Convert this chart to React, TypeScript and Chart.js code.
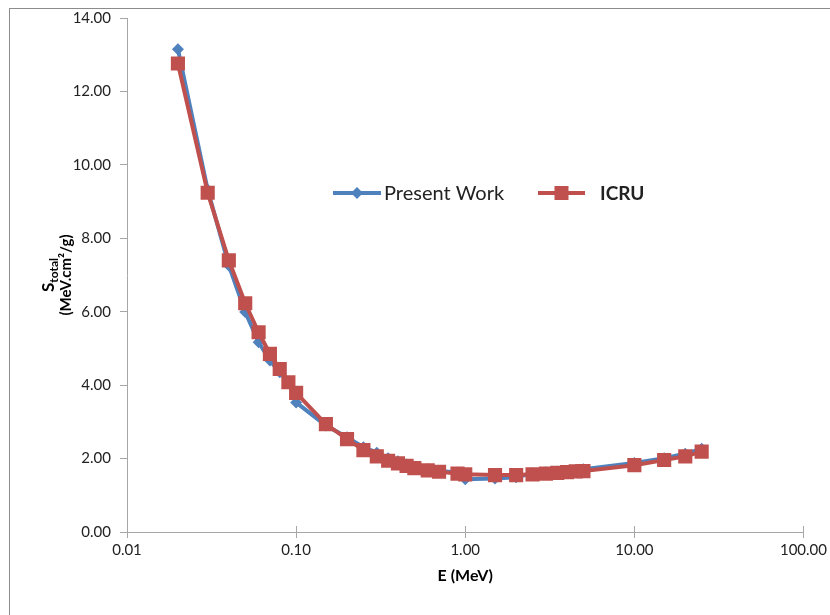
import React, { useEffect, useRef } from 'react';
import { Chart, registerables } from 'chart.js';

Chart.register(...registerables);

const energies = [0.02, 0.03, 0.04, 0.05, 0.06, 0.07, 0.08, 0.09, 0.1, 0.15, 0.2, 0.25, 0.3, 0.35, 0.4, 0.45, 0.5, 0.6, 0.7, 0.9, 1.0, 1.5, 2, 2.5, 3, 3.5, 4, 4.5, 5, 10, 15, 20, 25];
const presentWork = [13.15, 9.32, 7.26, 5.99, 5.17, 4.67, 4.35, 4.08, 3.53, 2.9, 2.58, 2.31, 2.16, 2.01, 1.93, 1.84, 1.78, 1.71, 1.66, 1.62, 1.44, 1.46, 1.49, 1.6, 1.63, 1.65, 1.67, 1.69, 1.71, 1.88, 2.01, 2.13, 2.27];
const icru = [12.76, 9.24, 7.4, 6.23, 5.44, 4.85, 4.44, 4.08, 3.79, 2.94, 2.53, 2.23, 2.06, 1.94, 1.87, 1.8, 1.74, 1.68, 1.64, 1.59, 1.57, 1.55, 1.55, 1.57, 1.59, 1.61, 1.63, 1.65, 1.66, 1.82, 1.96, 2.06, 2.19];
const xTicks = [0.01, 0.1, 1, 10, 100];
const seriesNames = ['Present Work', 'ICRU'];
const xTitle = 'E (MeV)';
const yTitleMain = 'S';
const yTitleSub = 'total';
const yTitleUnit = '(MeV.cm\u00B2/g)';

const BLUE = '#4F81BD';
const RED = '#C0504D';
const FONT = 'Lato, "Open Sans", sans-serif';

const decor = {
  id: 'decor',
  beforeDraw(chart: any) {
    const ctx = chart.ctx;
    ctx.save();
    ctx.fillStyle = '#ffffff';
    ctx.fillRect(0, 0, chart.width, chart.height);
    ctx.restore();
  },
  afterDraw(chart: any) {
    const ctx = chart.ctx;
    const { left, right, top, bottom } = chart.chartArea;
    ctx.save();
    // outer border
    ctx.strokeStyle = '#8c8c8c';
    ctx.lineWidth = 1;
    ctx.strokeRect(9.5, 8.5, 840, 640);

    // inner halves of x cross tick marks
    const xs = chart.scales.x;
    ctx.strokeStyle = '#a6a6a6';
    ctx.beginPath();
    xTicks.forEach((v) => {
      const px = Math.round(xs.getPixelForValue(v)) + 0.5;
      ctx.moveTo(px, bottom - 6);
      ctx.lineTo(px, bottom);
    });
    ctx.stroke();

    // x title
    ctx.fillStyle = '#000';
    ctx.font = 'bold 16px ' + FONT;
    ctx.textAlign = 'center';
    ctx.textBaseline = 'middle';
    ctx.fillText(xTitle, (left + right) / 2, 576);

    // y title
    const cy = (top + bottom) / 2;
    ctx.save();
    ctx.translate(51, cy);
    ctx.rotate(-Math.PI / 2);
    ctx.textBaseline = 'middle';
    ctx.textAlign = 'left';
    ctx.font = 'bold 17px ' + FONT;
    const wS = ctx.measureText(yTitleMain).width;
    ctx.font = 'bold 12px ' + FONT;
    const wSub = ctx.measureText(yTitleSub).width;
    const x0 = -(wS + wSub) / 2;
    ctx.font = 'bold 17px ' + FONT;
    ctx.fillText(yTitleMain, x0, -2);
    ctx.font = 'bold 12px ' + FONT;
    ctx.fillText(yTitleSub, x0 + wS, 3);
    ctx.font = 'bold 15px ' + FONT;
    ctx.textAlign = 'center';
    ctx.fillText(yTitleUnit, 0, 15);
    ctx.restore();

    // legend
    const ds = chart.data.datasets;
    const ly = 193;
    const items = [
      { x1: 333, x2: 381, tx: 384, font: '20px ' + FONT, ds: ds[0] },
      { x1: 538, x2: 585, tx: 600, font: 'bold 19px ' + FONT, ds: ds[1] },
    ];
    items.forEach((it) => {
      ctx.strokeStyle = it.ds.borderColor;
      ctx.lineWidth = it.ds.borderWidth;
      ctx.beginPath();
      ctx.moveTo(it.x1, ly);
      ctx.lineTo(it.x2, ly);
      ctx.stroke();
      const mx = (it.x1 + it.x2) / 2;
      ctx.fillStyle = it.ds.pointBackgroundColor;
      ctx.beginPath();
      if (it.ds.pointStyle === 'rectRot') {
        const r = 6;
        ctx.moveTo(mx, ly - r);
        ctx.lineTo(mx + r, ly);
        ctx.lineTo(mx, ly + r);
        ctx.lineTo(mx - r, ly);
        ctx.closePath();
      } else {
        ctx.rect(mx - 7, ly - 7, 14, 14);
      }
      ctx.fill();
      ctx.fillStyle = '#222';
      ctx.font = it.font;
      ctx.textAlign = 'left';
      ctx.textBaseline = 'middle';
      ctx.fillText(it.ds.label, it.tx, ly + 1);
    });
    ctx.restore();
  },
};

export default function App() {
  const ref = useRef<HTMLCanvasElement>(null);
  useEffect(() => {
    if (!ref.current) return;
    const chart = new Chart(ref.current, {
      type: 'line',
      data: {
        datasets: [
          {
            label: seriesNames[0],
            data: energies.map((e, i) => ({ x: e, y: presentWork[i] })),
            borderColor: BLUE,
            backgroundColor: BLUE,
            pointBackgroundColor: BLUE,
            pointBorderColor: BLUE,
            borderWidth: 4,
            pointStyle: 'rectRot',
            pointRadius: 6,
            pointBorderWidth: 0,
            tension: 0,
            order: 1,
          } as any,
          {
            label: seriesNames[1],
            data: energies.map((e, i) => ({ x: e, y: icru[i] })),
            borderColor: RED,
            backgroundColor: RED,
            pointBackgroundColor: RED,
            pointBorderColor: RED,
            borderWidth: 4,
            pointStyle: 'rect',
            pointRadius: 10,
            pointBorderWidth: 0,
            tension: 0,
            order: 0,
          } as any,
        ],
      },
      options: {
        responsive: false,
        animation: false,
        devicePixelRatio: 1,
        layout: { padding: { left: 0, right: 25, top: 18, bottom: 0 } },
        plugins: { legend: { display: false }, tooltip: { enabled: false } },
        scales: {
          x: {
            type: 'logarithmic',
            min: 0.01,
            max: 100,
            afterBuildTicks: (scale: any) => {
              scale.ticks = xTicks.map((v) => ({ value: v }));
            },
            afterFit: (scale: any) => {
              scale.height = 83;
            },
            ticks: {
              autoSkip: false,
              maxRotation: 0,
              padding: 3,
              color: '#222',
              font: { family: FONT, size: 15 },
              callback: (v: any) => Number(v).toFixed(2),
            },
            grid: { drawOnChartArea: false, drawTicks: true, tickLength: 6, color: '#a6a6a6' },
            border: { color: '#a6a6a6', width: 1 },
          },
          y: {
            type: 'linear',
            min: 0,
            max: 14,
            afterFit: (scale: any) => {
              scale.width = 127;
            },
            ticks: {
              stepSize: 2,
              padding: 9,
              color: '#222',
              font: { family: FONT, size: 15 },
              callback: (v: any) => Number(v).toFixed(2),
            },
            grid: { drawOnChartArea: false, drawTicks: true, tickLength: 7, color: '#a6a6a6' },
            border: { color: '#a6a6a6', width: 1 },
          },
        },
      },
      plugins: [decor],
    });
    return () => chart.destroy();
  }, []);
  return (
    <div style={{ position: 'absolute', left: 0, top: 0, width: 830, height: 615 }}>
      <canvas ref={ref} width={830} height={615} />
    </div>
  );
}
